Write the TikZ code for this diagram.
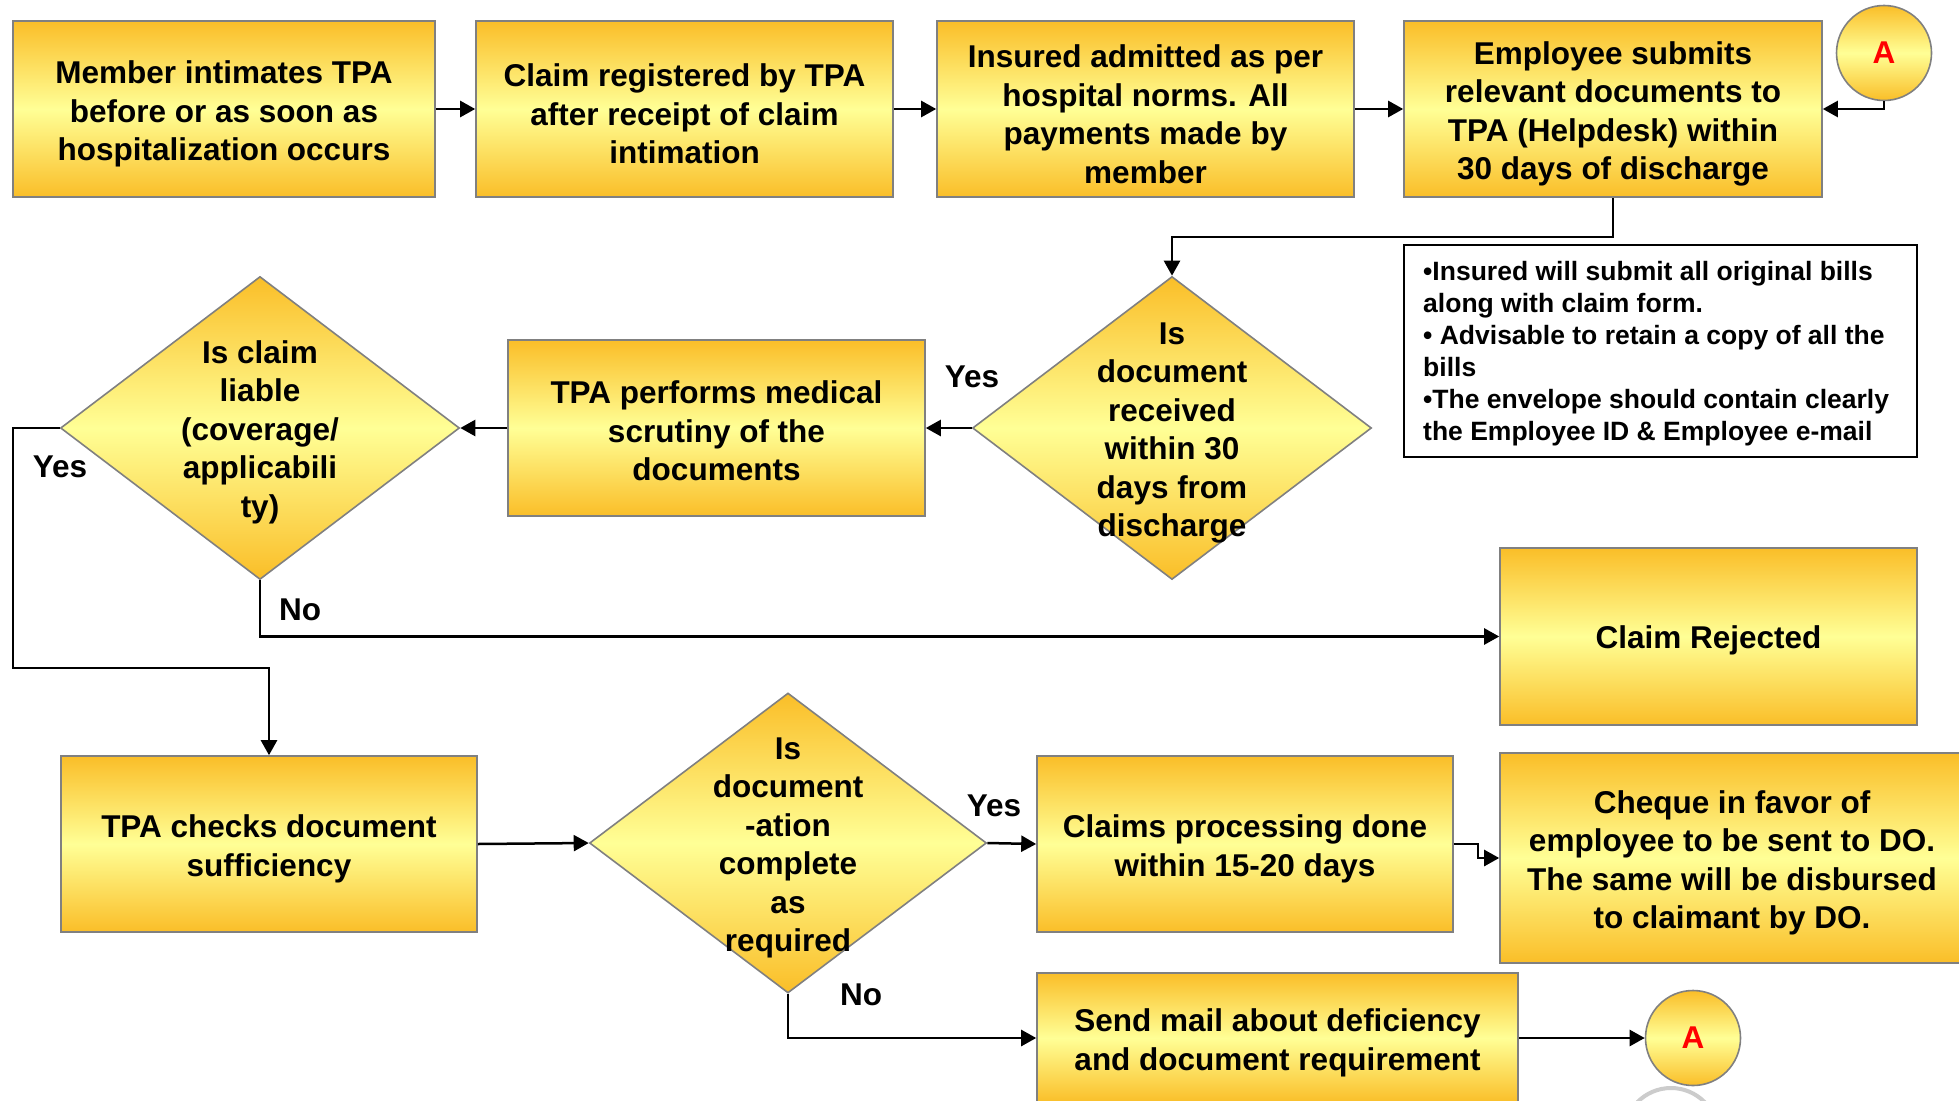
\documentclass[tikz,border=0pt]{standalone}
\usepackage{fontspec}
\setmainfont{Liberation Sans}
\usetikzlibrary{shapes.geometric,arrows.meta}
\definecolor{orr}{RGB}{250,190,40}
\definecolor{yel}{RGB}{255,255,150}
\definecolor{edgegray}{RGB}{128,128,128}
\newcommand\bigf{\fontsize{31.5}{38.5}\selectfont\bfseries}
\newcommand\notef{\fontsize{26.5}{32}\selectfont\bfseries}
\begin{document}
\begin{tikzpicture}[x=1pt,y=-1pt,
  grad/.style={draw=edgegray, line width=1.6pt, top color=orr, bottom color=orr, middle color=yel},
  box/.style={grad, rectangle, inner sep=0pt},
  dia/.style={grad, diamond, inner sep=0pt},
  txt/.style={align=center, inner sep=0pt, font=\bigf, text=black},
  conn/.style={grad, circle, inner sep=0pt, minimum size=95, font=\bigf, text=red},
  lab/.style={font=\bigf, inner sep=0pt},
  arr/.style={draw=black, line width=2.5pt, -{Triangle[length=15pt,width=16pt]}}]
\useasboundingbox (0,0) rectangle (1959,1100);
\fill[white] (0,0) rectangle (1959,1100);
\clip (0,0) rectangle (1959,1100);

% top row
\node[box, minimum width=422, minimum height=176] (b1) at (224,109) {};
\node[txt] (b1t) at ([yshift=-5pt]b1.center) {Member intimates TPA\\before or as soon as\\hospitalization occurs};
\node[box, minimum width=417, minimum height=176] (b2) at (684.5,109) {};
\node[txt] (b2t) at ([yshift=-5pt]b2.center) {Claim registered by TPA\\after receipt of claim\\intimation};
\node[box, minimum width=417, minimum height=176] (b3) at (1145.5,109) {};
\node[txt] (b3t) at ([yshift=-5pt]b3.center) {Insured admitted as per\\hospital norms. All\\payments made by\\member};
\node[box, minimum width=418, minimum height=176] (b4) at (1613,109) {};
\node[txt] (b4t) at ([yshift=-5pt]b4.center) {Employee submits\\relevant documents to\\TPA (Helpdesk) within\\30 days of discharge};
\node[conn] (A1) at (1884,53) {A};

% notes
\node[draw=black, line width=2pt, minimum width=513, minimum height=212, inner sep=0pt] (notes) at (1660.5,351) {};
\node[align=left, inner sep=0pt, font=\notef, anchor=west] (notest) at ([xshift=20pt,yshift=-3pt]notes.west) {\textbullet Insured will submit all original bills\\along with claim form.\\\textbullet\ Advisable to retain a copy of all the\\bills\\\textbullet The envelope should contain clearly\\the Employee ID \& Employee e-mail};

% middle row
\node[dia, minimum width=399, minimum height=303] (d1) at (1172,428) {};
\node[txt] (d1t) at ([yshift=-5pt]d1.center) {Is\\document\\received\\within 30\\days from\\discharge};
\node[box, minimum width=417, minimum height=176] (scr) at (716.5,428) {};
\node[txt] (scrt) at ([yshift=-3pt]scr.center) {TPA performs medical\\scrutiny of the\\documents};
\node[dia, minimum width=399, minimum height=303] (d2) at (260,428) {};
\node[txt] (d2t) at ([yshift=-4pt]d2.center) {Is claim\\liable\\(coverage/\\applicabili\\ty)};
\node[box, minimum width=417, minimum height=177] (rej) at (1708.5,636.5) {};
\node[txt] (rejt) at ([yshift=-4pt]rej.center) {Claim Rejected};

% bottom row
\node[box, minimum width=416, minimum height=176] (chk) at (269,844) {};
\node[txt] (chkt) at ([yshift=-5pt]chk.center) {TPA checks document\\sufficiency};
\node[dia, minimum width=397, minimum height=300] (d3) at (788,843) {};
\node[txt] (d3t) at ([yshift=-5pt]d3.center) {Is\\document\\-ation\\complete\\as\\required};
\node[box, minimum width=416, minimum height=176] (proc) at (1245,844) {};
\node[txt] (proct) at ([yshift=-5pt]proc.center) {Claims processing done\\within 15-20 days};
\node[box, minimum width=464, minimum height=210] (chq) at (1732,858) {};
\node[txt] (chqt) at ([yshift=-5pt]chq.center) {Cheque in favor of\\employee to be sent to DO.\\The same will be disbursed\\to claimant by DO.};
\node[box, minimum width=481, minimum height=130] (send) at (1277.5,1038) {};
\node[txt] (sendt) at ([yshift=-5pt]send.center) {Send mail about deficiency\\and document requirement};
\node[conn] (A2) at (1693,1038) {A};
\draw[gray!40, line width=4pt, fill=white] (1671,1135) circle[radius=47];

% connectors
\draw[arr] (b1.east) -- (b2.west);
\draw[arr] (b2.east) -- (b3.west);
\draw[arr] (b3.east) -- (b4.west);
\draw[arr] (A1.south) |- (b4.east);
\draw[arr] (b4.south) -- ++(0,39) -| (d1.north);
\draw[arr] (d1.west) -- (scr.east);
\draw[arr] (scr.west) -- (d2.east);
\coordinate (yl) at (13,668);
\draw[arr] (d2.west) -| (yl) -| (chk.north);
\draw[arr] (d2.south) |- (rej.west);
\draw[arr] (chk.east) -- (d3.west);
\draw[arr] (d3.east) -- (proc.west);
\draw[arr] (proc.east) -- ++(24,0) |- (chq.west);
\draw[arr] (d3.south) |- (send.west);
\draw[arr] (send.east) -- (A2.west);

% labels
\node[lab] (y1) at (972,377) {Yes};
\node[lab] (y2) at (60,467) {Yes};
\node[lab] (n1) at (300,610) {No};
\node[lab] (y3) at (994,806) {Yes};
\node[lab] (n2) at (861,995) {No};
\end{tikzpicture}
\end{document}
